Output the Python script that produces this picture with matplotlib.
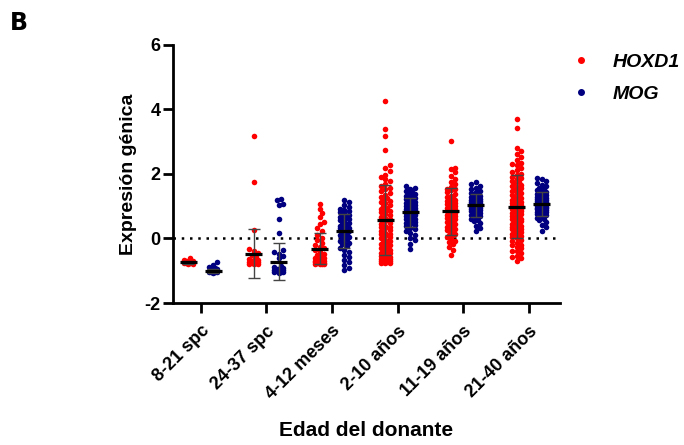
import matplotlib
matplotlib.use("Agg")
import matplotlib.pyplot as plt
import numpy as np
from matplotlib.lines import Line2D

plt.rcParams['font.family'] = ['Liberation Sans', 'DejaVu Sans']
plt.rcParams['axes.unicode_minus'] = False

# Data

groups = ['8-21 spc', '24-37 spc', '4-12 meses', '2-10 años', '11-19 años', '21-40 años']

hoxd1_1 = [-0.60, -0.66, -0.69, -0.71, -0.72, -0.74, -0.75, -0.75, -0.76, -0.77, -0.78, -0.79, -0.73, -0.70]
mog_1 = [-0.74, -0.82, -0.88, -0.93, -0.97, -0.99, -1.01, -1.02, -1.03, -1.04, -1.05, -1.06, -1.04, -1.02,
         -1.00, -0.96]

hoxd1_2 = [3.18, 1.74, 0.25, -0.33, -0.38, -0.45, -0.52, -0.58, -0.63, -0.66, -0.70, -0.72, -0.74, -0.76,
           -0.78, -0.80, -0.79, -0.75, -0.71, -0.68, -0.77]
mog_2 = [1.24, 1.18, 1.08, 1.05, 0.59, 0.16, -0.37, -0.41, -0.47, -0.54, -0.62, -0.84, -0.89, -0.92, -0.95,
         -0.97, -0.99, -1.01, -1.03, -1.04, -1.06, -1.02, -0.98, -0.94, -1.05]

hoxd1_3 = [1.07, 0.93, 0.78, 0.66, 0.52, 0.44, 0.31, 0.22, 0.12, 0.03, -0.06, -0.13, -0.19, -0.26, -0.31,
           -0.37, -0.42, -0.47, -0.52, -0.57, -0.61, -0.64, -0.67, -0.69, -0.71, -0.73, -0.74, -0.75, -0.76,
           -0.77, -0.78, -0.79, -0.80, -0.76, -0.72, -0.78, -0.70, -0.62]
mog_3 = [1.19, 1.12, 1.05, 0.98, 0.93, 0.88, 0.82, 0.78, 0.74, 0.70, 0.66, 0.61, 0.57, 0.52, 0.48, 0.44,
         0.40, 0.36, 0.31, 0.27, 0.23, 0.19, 0.15, 0.11, 0.06, 0.02, -0.03, -0.08, -0.13, -0.18, -0.23, -0.29,
         -0.35, -0.42, -0.50, -0.58, -0.66, -0.74, -0.83, -0.90, -0.97, 0.85, 0.62, 0.34, 0.08, -0.15, 0.72,
         0.46]

hoxd1_4 = [4.25, 3.41, 3.18, 2.74, 2.27, 2.18, 2.08, 1.98, 1.90, 1.84, 1.77, 1.70, 1.63, 1.58, 1.52, 1.47,
           1.41, 1.36, 1.30, 1.26, 1.21, 1.15, 1.10, 1.05, 1.00, 0.96, 0.91, 0.86, 0.81, 0.77, 0.72, 0.67,
           0.63, 0.58, 0.54, 0.49, 0.45, 0.40, 0.36, 0.31, 0.27, 0.22, 0.18, 0.13, 0.09, 0.05, 0.01, -0.04,
           -0.08, -0.12, -0.16, -0.20, -0.24, -0.28, -0.32, -0.35, -0.39, -0.42, -0.46, -0.49, -0.52, -0.55,
           -0.58, -0.61, -0.63, -0.66, -0.68, -0.70, -0.72, -0.74, -0.75, -0.76, -0.77, 0.15, -0.10, -0.30,
           -0.50, -0.65, -0.72, 0.60, 0.35, -0.45, -0.60, -0.70, 1.12, 0.85, -0.18, -0.38, -0.56, -0.68]
mog_4 = [1.63, 1.58, 1.52, 1.48, 1.44, 1.40, 1.37, 1.33, 1.30, 1.27, 1.24, 1.21, 1.18, 1.15, 1.12, 1.10,
         1.07, 1.04, 1.02, 0.99, 0.97, 0.94, 0.92, 0.89, 0.87, 0.85, 0.82, 0.80, 0.78, 0.75, 0.73, 0.70,
         0.68, 0.65, 0.62, 0.59, 0.56, 0.53, 0.50, 0.46, 0.42, 0.38, 0.34, 0.29, 0.24, 0.18, 0.11, 0.03,
         -0.06, -0.16, -0.33, 1.05, 0.95, 0.88, 0.83, 0.77, 0.71, 1.14, 1.26, 0.60, 0.48, 1.35, 0.91, 0.79,
         1.00]

hoxd1_5 = [3.03, 2.20, 2.15, 2.05, 1.95, 1.85, 1.76, 1.68, 1.61, 1.55, 1.49, 1.43, 1.38, 1.33, 1.28, 1.23,
           1.19, 1.15, 1.11, 1.07, 1.03, 0.99, 0.96, 0.92, 0.89, 0.86, 0.83, 0.80, 0.77, 0.74, 0.71, 0.68,
           0.65, 0.62, 0.58, 0.55, 0.51, 0.47, 0.43, 0.39, 0.35, 0.30, 0.25, 0.20, 0.15, 0.10, 0.04, -0.03,
           -0.10, -0.18, -0.27, -0.37, -0.50, 0.90, 0.84, 0.79, 0.72, 1.00, 1.17, 0.60, 0.45, 1.30, 0.95,
           0.66, 0.28, 1.52, -0.08, 0.12]
mog_5 = [1.74, 1.68, 1.62, 1.57, 1.52, 1.48, 1.45, 1.41, 1.38, 1.35, 1.32, 1.29, 1.27, 1.24, 1.22, 1.19,
         1.17, 1.15, 1.13, 1.11, 1.09, 1.07, 1.05, 1.03, 1.01, 0.99, 0.97, 0.95, 0.93, 0.91, 0.89, 0.87,
         0.84, 0.82, 0.79, 0.76, 0.73, 0.70, 0.66, 0.62, 0.58, 0.53, 0.47, 0.40, 0.32, 0.24, 1.06, 1.10,
         1.02, 0.98, 1.14, 0.94, 1.20, 0.88, 1.26, 0.80, 1.33, 1.04, 1.00, 0.96, 1.08, 1.12]

hoxd1_6 = [3.70, 3.44, 2.82, 2.72, 2.62, 2.52, 2.43, 2.35, 2.27, 2.19, 2.12, 2.05, 1.98, 1.91, 1.85, 1.79,
           1.73, 1.67, 1.61, 1.56, 1.51, 1.46, 1.41, 1.36, 1.31, 1.27, 1.22, 1.18, 1.13, 1.09, 1.05, 1.01,
           0.97, 0.93, 0.89, 0.85, 0.81, 0.77, 0.73, 0.69, 0.65, 0.61, 0.57, 0.53, 0.49, 0.45, 0.41, 0.37,
           0.33, 0.29, 0.25, 0.21, 0.17, 0.13, 0.09, 0.05, 0.01, -0.04, -0.09, -0.14, -0.19, -0.25, -0.31,
           -0.38, -0.46, -0.55, -0.62, -0.69, 1.20, 1.10, 1.00, 0.95, 0.90, 1.30, 1.40, 0.80, 0.70, 0.60,
           1.50, 1.62, 1.75, 0.50, 0.40, 0.30, 0.20, 1.88, 2.00, 0.10, -0.20, -0.40, -0.58, 2.30, 1.15,
           0.85, 1.05]
mog_6 = [1.89, 1.83, 1.77, 1.72, 1.67, 1.62, 1.58, 1.54, 1.50, 1.47, 1.44, 1.41, 1.38, 1.35, 1.33, 1.30,
         1.28, 1.26, 1.24, 1.22, 1.20, 1.18, 1.16, 1.14, 1.12, 1.10, 1.08, 1.06, 1.04, 1.02, 1.00, 0.98,
         0.96, 0.94, 0.92, 0.90, 0.88, 0.86, 0.83, 0.81, 0.78, 0.75, 0.72, 0.69, 0.65, 0.61, 0.56, 0.50,
         0.43, 0.35, 0.24, 1.07, 1.11, 1.03, 0.99, 1.15, 0.95, 1.19, 0.91, 1.23, 0.87, 1.29, 0.82, 1.36,
         0.76, 1.45, 1.09, 1.05, 1.13, 1.01, 0.97, 1.17, 0.93]

hoxd1 = [hoxd1_1, hoxd1_2, hoxd1_3, hoxd1_4, hoxd1_5, hoxd1_6]
mog = [mog_1, mog_2, mog_3, mog_4, mog_5, mog_6]

# mean and SD as shown by the bars
mean_hoxd1 = [-0.74, -0.48, -0.32, 0.57, 0.84, 0.98]
sd_hoxd1 = [0.04, 0.76, 0.48, 1.08, 0.72, 0.98]
mean_mog = [-1.01, -0.72, 0.23, 0.81, 1.03, 1.07]
sd_mog = [0.05, 0.58, 0.54, 0.46, 0.35, 0.36]

red = '#ff0000'
blue = '#000080'
offset = 0.19

# pixel scale of the axes, used to lay out the swarm
xpx = 65.6
ypx = 32.25


def swarm(vals, center, d=4.2, step=2.2, maxw=6.0):
    vals = np.asarray(vals, dtype=float)
    xs = np.zeros(len(vals))
    placed = []
    cands = [0.0]
    k = 1
    while k * step <= maxw:
        cands += [k * step, -k * step]
        k += 1
    for i in np.argsort(vals):
        y = vals[i] * ypx
        best = 0.0
        bestd = -1
        for c in cands:
            if placed:
                p = np.array(placed)
                md = np.min(np.hypot(p[:, 0] - c, p[:, 1] - y))
            else:
                md = 1e9
            if md >= d:
                best = c
                break
            if md > bestd:
                bestd = md
                best = c
        placed.append((best, y))
        xs[i] = best
    return center + xs / xpx


fig = plt.figure(figsize=(6.84, 4.45), dpi=100)
ax = fig.add_axes([0.2529, 0.3191, 0.5658, 0.5798])

for i in range(len(groups)):
    xh = swarm(hoxd1[i], i - offset)
    xm = swarm(mog[i], i + offset)
    ax.scatter(xh, hoxd1[i], s=16, color=red, linewidths=0, zorder=3)
    ax.scatter(xm, mog[i], s=16, color=blue, linewidths=0, zorder=3)

for xc, m, s in [(np.arange(6) - offset, mean_hoxd1, sd_hoxd1), (np.arange(6) + offset, mean_mog, sd_mog)]:
    ax.errorbar(xc, m, yerr=s, fmt='none', ecolor='#444444', elinewidth=1, capsize=4.5, capthick=1, zorder=4)
    ax.hlines(m, xc - 0.13, xc + 0.13, colors='black', linewidth=2.3, zorder=5)

ax.axhline(0, color='black', linewidth=1.8, linestyle=(0, (1, 2.3)), zorder=1)

ax.set_xlim(-0.42, 5.47)
ax.set_ylim(-2, 6)
ax.set_yticks([-2, 0, 2, 4, 6])
ax.set_xticks(range(6))
ax.set_xticklabels(groups, rotation=45, ha='right', rotation_mode='anchor', fontweight='bold', fontsize=13)
for lab in ax.get_yticklabels():
    lab.set_fontweight('bold')
    lab.set_fontsize(13)

ax.spines['top'].set_visible(False)
ax.spines['right'].set_visible(False)
ax.spines['left'].set_linewidth(2)
ax.spines['bottom'].set_linewidth(2)
ax.tick_params(axis='both', width=2, length=7)
ax.tick_params(axis='x', pad=7)
ax.tick_params(axis='y', pad=2)

ax.set_ylabel('Expresión génica', fontsize=14, fontweight='bold', labelpad=5)
ax.set_xlabel('Edad del donante', fontsize=15, fontweight='bold', labelpad=13)

handles = [Line2D([], [], marker='o', linestyle='none', color=red, markersize=4),
           Line2D([], [], marker='o', linestyle='none', color=blue, markersize=4)]
fig.legend(handles, ['HOXD1', 'MOG'], loc='upper left', bbox_to_anchor=(0.810, 0.920), frameon=False,
           prop={'weight': 'bold', 'style': 'italic', 'size': 14}, handletextpad=1.13, labelspacing=0.75,
           handlelength=1.0)

fig.text(0.014, 0.948, 'B', fontsize=17, fontweight='bold', family='DejaVu Sans', va='center')

fig.savefig('out.png', dpi=100)
